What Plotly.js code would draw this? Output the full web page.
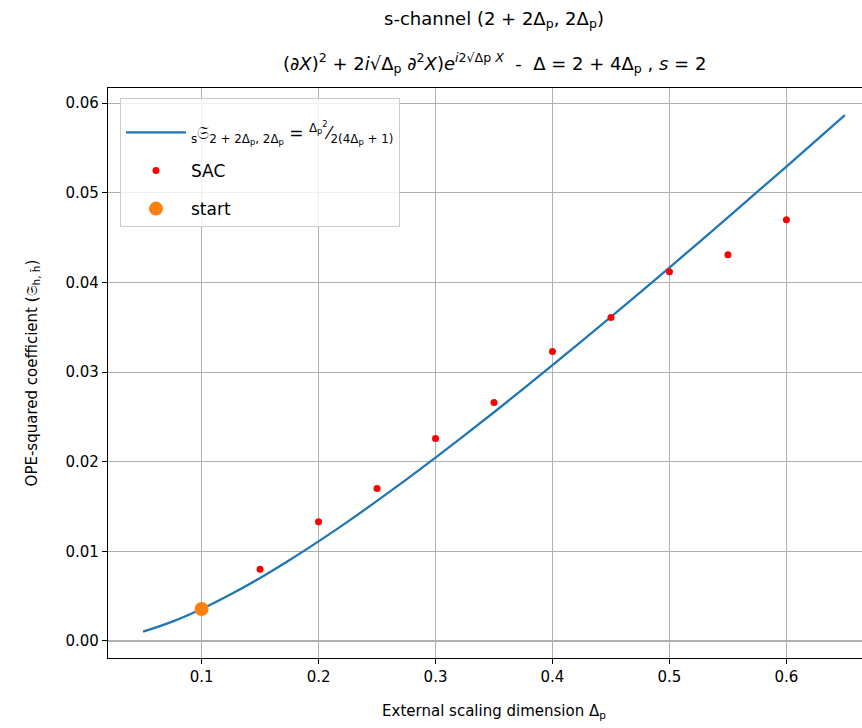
<!DOCTYPE html>
<html>
<head>
<meta charset="utf-8">
<script src="https://cdn.plot.ly/plotly-3.0.1.min.js"></script>
<style>
html,body{margin:0;padding:0;overflow:hidden;background:#fff;}
#chart{width:880px;height:728px;}
</style>
</head>
<body>
<div id="chart"></div>
<script>
// Curve
const curveX = [0.05,0.075,0.1,0.125,0.15,0.175,0.2,0.225,0.25,0.275,0.3,0.325,0.35,0.375,0.4,0.425,0.45,0.475,0.5,0.525,0.55,0.575,0.6,0.625,0.65];
const curveY = [0.00104,0.00216,0.00357,0.00521,0.00703,0.00901,0.01111,0.01332,0.01563,0.01801,0.02045,0.02296,0.02552,0.02813,0.03077,0.03345,0.03616,0.0389,0.04167,0.04446,0.04727,0.0501,0.05294,0.0558,0.05868];
// SAC points
const sacX = [0.15,0.2,0.25,0.3,0.35,0.4,0.45,0.5,0.55,0.6];
const sacY = [0.0080,0.0133,0.0170,0.0226,0.0266,0.0323,0.0361,0.0412,0.0431,0.0470];
// start point
const startX = [0.1];
const startY = [0.00357];
const xTicks = [0.1,0.2,0.3,0.4,0.5,0.6];
const xTickText = ['0.1','0.2','0.3','0.4','0.5','0.6'];
const yTicks = [0,0.01,0.02,0.03,0.04,0.05,0.06];
const yTickText = ['0.00','0.01','0.02','0.03','0.04','0.05','0.06'];

const F = 'DejaVu Sans, sans-serif';
const traces = [
  {x: curveX, y: curveY, mode: 'lines', line: {color: '#1f77b4', width: 2.3, shape: 'spline'}, legendgroup: 'a',
   name: '<sub>s</sub>𝔖<sub>2 + 2Δ<sub>p</sub>, 2Δ<sub>p</sub></sub> = <sup>Δ<sub>p</sub><sup>2</sup></sup>⁄<sub>2(4Δ<sub>p</sub> + 1)</sub>'},
  {x: sacX, y: sacY, mode: 'markers', marker: {color: '#ff0000', size: 7}, name: 'SAC', legendgroup: 'b'},
  {x: startX, y: startY, mode: 'markers', marker: {color: '#ff7f0e', size: 14}, name: 'start', legendgroup: 'c'}
];
const layout = {
  width: 880, height: 728,
  margin: {l: 108, r: 0, t: 88, b: 70},
  paper_bgcolor: '#fff', plot_bgcolor: '#fff',
  font: {family: F, size: 15, color: '#000'},
  title: {text: 's-channel (2 + 2Δ<sub>p</sub>, 2Δ<sub>p</sub>)', font: {family: F, size: 18, color: '#000'},
          x: 0.5, xref: 'paper', xanchor: 'center', y: 0.975, yanchor: 'middle'},
  annotations: [{
    text: '(∂<i>X</i>)<sup>2</sup> + 2<i>i</i>√Δ<sub>p</sub> ∂<sup>2</sup><i>X</i>)<i>e</i><sup><i>i</i>2√Δp <i>X</i></sup>  -  Δ = 2 + 4Δ<sub>p</sub> , <i>s</i> = 2',
    xref: 'paper', yref: 'paper', x: 0.5, y: 1, yshift: 25, xanchor: 'center', yanchor: 'middle',
    showarrow: false, font: {family: F, size: 18, color: '#000'}
  }],
  xaxis: {
    range: [0.02, 0.68], tickvals: xTicks, ticktext: xTickText,
    showgrid: true, gridcolor: '#b0b0b0', gridwidth: 1.2,
    showline: true, linecolor: '#000', linewidth: 1.2, mirror: true,
    ticks: 'outside', ticklen: 5, tickcolor: '#000', zeroline: false,
    tickfont: {family: F, size: 15, color: '#000'},
    title: {text: 'External scaling dimension Δ<sub>p</sub>', font: {family: F, size: 15, color: '#000'}, standoff: 20}
  },
  yaxis: {
    range: [-0.0019, 0.0617], tickvals: yTicks, ticktext: yTickText,
    showgrid: true, gridcolor: '#b0b0b0', gridwidth: 1.2,
    showline: true, linecolor: '#000', linewidth: 1.2, mirror: true,
    ticks: 'outside', ticklen: 5, tickcolor: '#000', zeroline: false,
    tickfont: {family: F, size: 15, color: '#000'},
    title: {text: 'OPE-squared coefficient (𝔖<sub>h, h̄</sub>)', font: {family: F, size: 15, color: '#000'}, standoff: 24}
  },
  showlegend: true,
  legend: {
    x: 0.0155, y: 0.982, xanchor: 'left', yanchor: 'top', traceorder: 'grouped',
    bgcolor: 'rgba(255,255,255,0.8)', bordercolor: '#cccccc', borderwidth: 1,
    title: {text: ' ', font: {family: F, size: 12, color: '#000'}},
    font: {family: F, size: 17, color: '#000'}, tracegroupgap: 13, itemwidth: 60
  }
};
Plotly.newPlot('chart', traces, layout, {displayModeBar: false, staticPlot: true});
</script>
</body>
</html>
